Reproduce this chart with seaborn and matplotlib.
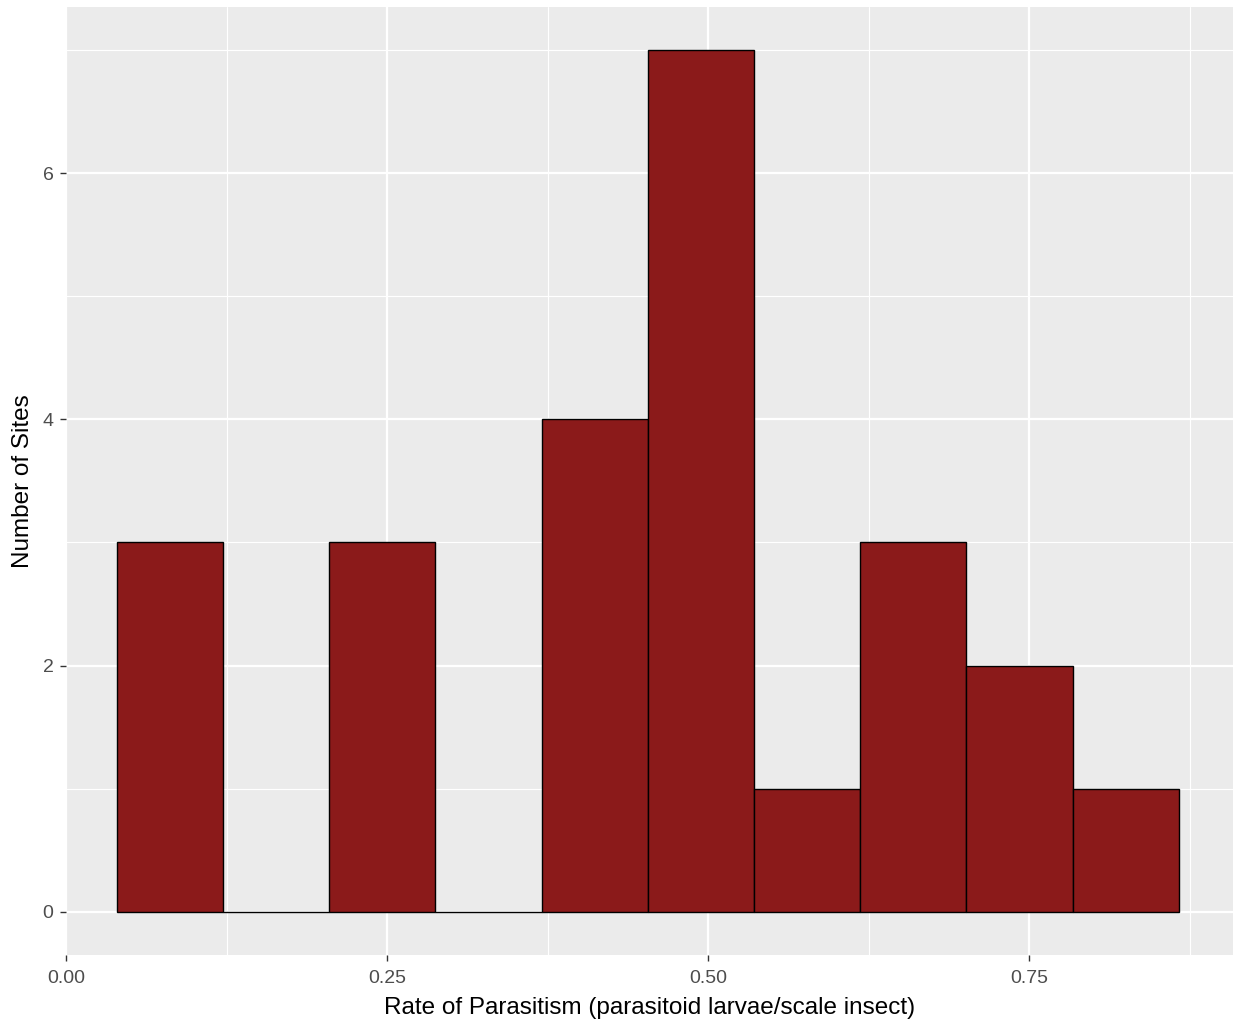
import numpy as np
import pandas as pd
import seaborn as sns
import matplotlib.pyplot as plt
from matplotlib.ticker import FixedLocator

# histogram bins (10 bins)
bin_edges = [0.0393, 0.1220, 0.2047, 0.2874, 0.3701, 0.4528,
             0.5355, 0.6182, 0.7009, 0.7836, 0.8663]
site_counts = [3, 0, 3, 0, 4, 7, 1, 3, 2, 1]
x_ticks = [0.00, 0.25, 0.50, 0.75]
x_tick_labels = ['0.00', '0.25', '0.50', '0.75']
y_ticks = [0, 2, 4, 6]

bin_mids = [(a + b) / 2 for a, b in zip(bin_edges[:-1], bin_edges[1:])]
df = pd.DataFrame({'rate': bin_mids, 'n': site_counts})

sns.set_style('darkgrid', {'axes.facecolor': '#EBEBEB', 'grid.color': 'white'})
plt.rcParams['font.family'] = ['Liberation Sans', 'DejaVu Sans']

fig = plt.figure(figsize=(12.35, 10.24), dpi=100)
ax = fig.add_axes([0.0534, 0.0674, 0.945, 0.926])

sns.histplot(data=df, x='rate', weights='n', bins=bin_edges, ax=ax,
             color='#8B1A1A', edgecolor='black', linewidth=1.0, alpha=1)

ax.set_xlim(-0.0004, 0.9086)
ax.set_ylim(-0.35, 7.35)
ax.set_xticks(x_ticks)
ax.set_xticklabels(x_tick_labels)
ax.set_yticks(y_ticks)
ax.xaxis.set_minor_locator(FixedLocator([0.125, 0.375, 0.625, 0.875]))
ax.yaxis.set_minor_locator(FixedLocator([1, 3, 5, 7]))
ax.grid(which='major', color='white', linewidth=1.6)
ax.grid(which='minor', color='white', linewidth=0.8)
ax.set_axisbelow(True)
for s in ax.spines.values():
    s.set_visible(False)

ax.tick_params(axis='both', which='major', length=4, width=1, color='#333333',
               labelcolor='#4D4D4D', labelsize=14, direction='out', pad=3)
ax.tick_params(axis='x', which='major', pad=7)
ax.tick_params(axis='y', which='major', pad=5)
ax.tick_params(axis='both', which='minor', length=0)
ax.tick_params(axis='x', bottom=True)
ax.tick_params(axis='y', left=True)

ax.set_xlabel('Rate of Parasitism (parasitoid larvae/scale insect)', fontsize=17.5, color='black', labelpad=7)
ax.set_ylabel('Number of Sites', fontsize=17.5, color='black', labelpad=6)

fig.savefig('out.png', dpi=100)
